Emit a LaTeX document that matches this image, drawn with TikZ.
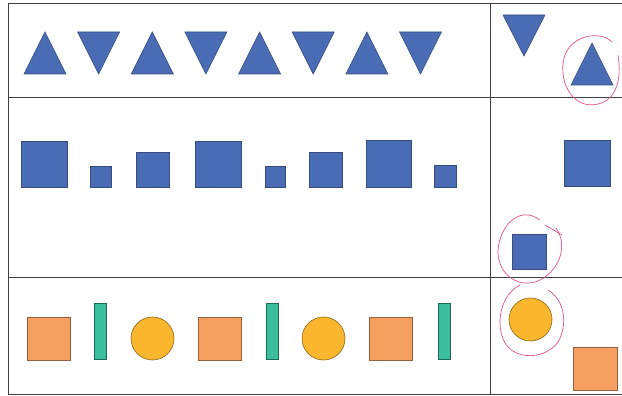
\documentclass[tikz,border=0pt]{standalone}
\usepackage{tikz}
\usetikzlibrary{calc}

\definecolor{shapeblue}{RGB}{74,108,180}
\definecolor{shapeorange}{RGB}{245,160,96}
\definecolor{shapeyellow}{RGB}{250,182,44}
\definecolor{shapeteal}{RGB}{58,190,156}
\definecolor{penpink}{RGB}{226,84,140}

\tikzset{
  bluefill/.style={fill=shapeblue, draw=shapeblue!70!black, line width=0.6pt},
  orangefill/.style={fill=shapeorange, draw=shapeorange!60!black, line width=0.6pt},
  yellowfill/.style={fill=shapeyellow, draw=shapeyellow!55!black, line width=0.6pt},
  tealfill/.style={fill=shapeteal, draw=shapeteal!55!black, line width=0.6pt},
  gridline/.style={draw=black!75, line width=0.7pt},
  penmark/.style={draw=penpink, line width=0.7pt}
}

\begin{document}
\begin{tikzpicture}[x=1pt, y=-1pt]
  \useasboundingbox (0,0) rectangle (622,396);
  \fill[white] (0,0) rectangle (622,396);

  % table lines
  \draw[gridline, line width=1pt] (622,4) -- (8,4) -- (8,394) -- (622,394);
  \draw[gridline] (8,97) -- (622,97);
  \draw[gridline] (8,277) -- (622,277);
  \draw[gridline] (490,4) -- (490,394);

  % row 1: triangles
  \foreach \i in {0,...,3} {
    \pgfmathsetmacro{\xu}{45+107.3*\i}
    \pgfmathsetmacro{\xd}{\xu+53.6}
    \draw[bluefill] (\xu-21,74) -- (\xu+21,74) -- (\xu,32) -- cycle;
    \draw[bluefill] (\xd-21,32) -- (\xd+21,32) -- (\xd,74) -- cycle;
  }
  \draw[bluefill] (503,15) -- (545,15) -- (524,56) -- cycle;
  \draw[bluefill] (571,85) -- (613,85) -- (592,43) -- cycle;

  % row 2: squares
  \foreach \xa/\xb/\ya in {21/67/141, 90/111/166, 136/169/152, 195/241/141,
                           265/285/166, 309/342/152, 366/411/140, 434/456/165} {
    \draw[bluefill] (\xa,\ya) rectangle (\xb,187);
  }
  \draw[bluefill] (564,140) rectangle (610,186);
  \draw[bluefill] (512,234) rectangle (546,269);

  % row 3: squares, bars, circles
  \foreach \xa in {27,198,369} {
    \draw[orangefill] (\xa,317) rectangle (\xa+43,360);
  }
  \foreach \xa in {94,266,438} {
    \draw[tealfill] (\xa,303) rectangle (\xa+12,359);
  }
  \foreach \xc in {152.5,323.5} {
    \draw[yellowfill] (\xc,338.5) ellipse (21.5 and 21.5);
  }
  \draw[yellowfill] (530.5,319.5) ellipse (21.5 and 21.5);
  \draw[orangefill] (573,347) rectangle (617,390);

  % pen marks
  \draw[penmark] (612,42) .. controls (600,30) and (570,35) .. (564,58)
    .. controls (558,85) and (575,110) .. (598,104)
    .. controls (616,100) and (622,80) .. (618,55);
  \draw[penmark] (540,220) .. controls (520,205) and (500,225) .. (498,250)
    .. controls (497,275) and (520,290) .. (540,280)
    .. controls (560,270) and (568,245) .. (556,228);
  \draw[penmark] (545,225) -- (562,235);
  \draw[penmark] (520,285) .. controls (500,295) and (495,325) .. (505,343)
    .. controls (515,360) and (545,360) .. (558,342)
    .. controls (568,325) and (565,300) .. (548,290);
\end{tikzpicture}
\end{document}
